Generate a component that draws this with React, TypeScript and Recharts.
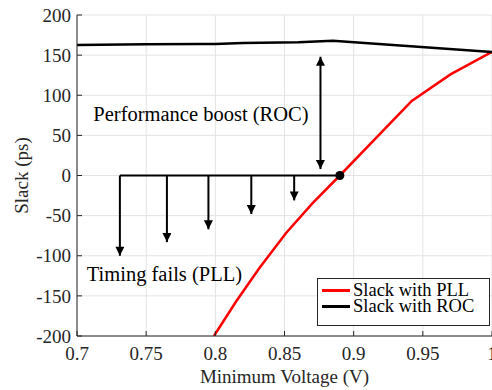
import React from 'react';
import {
  LineChart,
  Line,
  XAxis,
  YAxis,
  CartesianGrid,
  Legend,
  ReferenceLine,
  ReferenceDot,
} from 'recharts';

// Slack with ROC (black)
const rocVoltage = [0.7, 0.75, 0.79, 0.8, 0.82, 0.86, 0.885, 1.0];
const rocSlack = [162.5, 163.5, 164, 163.8, 165, 166, 168, 154];

// Slack with PLL (red)
const pllVoltage = [0.799, 0.815, 0.832, 0.851, 0.87, 0.89, 0.942, 0.97, 1.0];
const pllSlack = [-200, -157, -115, -72, -35, 0, 93, 126, 154];

// timing-fail arrows hanging from the zero line
const failVoltage = [0.731, 0.765, 0.795, 0.826, 0.857];
const failSlack = [-100, -83, -67, -48, -31];

// performance boost double arrow
const boostVoltage = 0.876;
const boostRange = [8, 148];
const crossing = { v: 0.89, s: 0 };

const xTicks = [0.7, 0.75, 0.8, 0.85, 0.9, 0.95, 1.0];
const yTicks = [-200, -150, -100, -50, 0, 50, 100, 150, 200];

const rocData = rocVoltage.map((v, i) => ({ v, s: rocSlack[i] }));
const pllData = pllVoltage.map((v, i) => ({ v, s: pllSlack[i] }));

const legendItems = [
  { name: 'Slack with PLL', color: '#ff0000' },
  { name: 'Slack with ROC', color: '#000000' },
];

const FONT = '"Liberation Serif", "Times New Roman", serif';
const AXIS = '#262626';

const XTick = (props: any) => (
  <text x={props.x} y={props.y} dy="0.71em" textAnchor="middle" fill={AXIS} fontSize={19} fontFamily={FONT}>
    {props.payload.value}
  </text>
);

const YTick = (props: any) => (
  <text x={props.x} y={props.y} dy="0.355em" textAnchor="end" fill={AXIS} fontSize={19} fontFamily={FONT}>
    {props.payload.value}
  </text>
);

const renderLegend = () => (
  <div
    style={{
      border: `1.5px solid ${AXIS}`,
      background: '#fff',
      padding: '3px 0 11px 4px',
      fontSize: 18.5,
      lineHeight: '16px',
      color: '#000',
      fontFamily: FONT,
      boxSizing: 'border-box',
      width: 173,
    }}
  >
    {legendItems.map((it) => (
      <div key={it.name} style={{ display: 'flex', alignItems: 'center', height: 16 }}>
        <span style={{ display: 'inline-block', width: 28, height: 3, background: it.color, marginRight: 3 }} />
        <span>{it.name}</span>
      </div>
    ))}
  </div>
);

export default function App() {
  return (
    <div
      style={{
        position: 'absolute',
        left: 0,
        top: 0,
        width: 492,
        height: 390,
        background: '#fff',
        fontFamily: FONT,
      }}
    >
      <LineChart width={492} height={390} margin={{ top: 15, right: 0, bottom: 0, left: 0 }}>
        <defs>
          <marker
            id="arrowHead"
            viewBox="0 0 10 10"
            refX={10}
            refY={5}
            markerUnits="userSpaceOnUse"
            markerWidth={10}
            markerHeight={9}
            orient="auto-start-reverse"
          >
            <path d="M0,0 L10,5 L0,10 z" fill="#000" />
          </marker>
        </defs>
        <CartesianGrid stroke="#e3e3e3" strokeWidth={1} />
        <XAxis
          type="number"
          dataKey="v"
          domain={[0.7, 1.0]}
          ticks={xTicks}
          interval={0}
          allowDataOverflow
          height={54}
          stroke={AXIS}
          tickSize={-5}
          tickMargin={16}
          tick={<XTick />}
          label={{ value: 'Minimum Voltage (V)', position: 'center', dy: 13, fontSize: 19, fill: AXIS, fontFamily: FONT }}
        />
        <XAxis
          xAxisId="top"
          orientation="top"
          type="number"
          dataKey="v"
          domain={[0.7, 1.0]}
          ticks={xTicks}
          interval={0}
          height={0}
          stroke={AXIS}
          tickSize={-5}
          tick={false}
        />
        <YAxis
          type="number"
          domain={[-200, 200]}
          ticks={yTicks}
          interval={0}
          allowDataOverflow
          width={77}
          stroke={AXIS}
          tickSize={-5}
          tickMargin={11}
          tick={<YTick />}
          label={{ value: 'Slack (ps)', angle: -90, position: 'center', dx: -17, fontSize: 19, fill: AXIS, fontFamily: FONT }}
        />
        <YAxis
          yAxisId="right"
          orientation="right"
          type="number"
          domain={[-200, 200]}
          ticks={yTicks}
          interval={0}
          width={0}
          stroke={AXIS}
          tickSize={-5}
          tick={false}
        />
        <Line
          data={pllData}
          dataKey="s"
          name="Slack with PLL"
          type="linear"
          stroke="#ff0000"
          strokeWidth={2.5}
          dot={false}
          isAnimationActive={false}
        />
        <Line
          data={rocData}
          dataKey="s"
          name="Slack with ROC"
          type="linear"
          stroke="#000000"
          strokeWidth={2.5}
          dot={false}
          isAnimationActive={false}
        />
        <ReferenceLine
          segment={[
            { x: failVoltage[0], y: 0 },
            { x: crossing.v, y: 0 },
          ]}
          stroke="#000"
          strokeWidth={1.8}
        />
        {failVoltage.map((v, i) => (
          <ReferenceLine
            key={v}
            segment={[
              { x: v, y: 0 },
              { x: v, y: failSlack[i] },
            ]}
            stroke="#000"
            strokeWidth={2}
            markerEnd="url(#arrowHead)"
          />
        ))}
        <ReferenceLine
          segment={[
            { x: boostVoltage, y: boostRange[0] },
            { x: boostVoltage, y: boostRange[1] },
          ]}
          stroke="#000"
          strokeWidth={2}
          markerStart="url(#arrowHead)"
          markerEnd="url(#arrowHead)"
        />
        <ReferenceDot x={crossing.v} y={crossing.s} r={4.5} fill="#000" stroke="none" />
        <ReferenceDot
          x={0.7896}
          y={77}
          r={0}
          fill="none"
          stroke="none"
          label={{ value: 'Performance boost (ROC)', position: 'center', fontSize: 20.5, fill: '#000', fontFamily: FONT }}
        />
        <ReferenceDot
          x={0.7632}
          y={-122}
          r={0}
          fill="none"
          stroke="none"
          label={{ value: 'Timing fails (PLL)', position: 'center', fontSize: 20.5, fill: '#000', fontFamily: FONT }}
        />
        <Legend
          layout="vertical"
          align="center"
          verticalAlign="middle"
          content={renderLegend}
          wrapperStyle={{ left: 317, top: 278, right: 'auto', bottom: 'auto', width: 173 }}
        />
      </LineChart>
    </div>
  );
}
